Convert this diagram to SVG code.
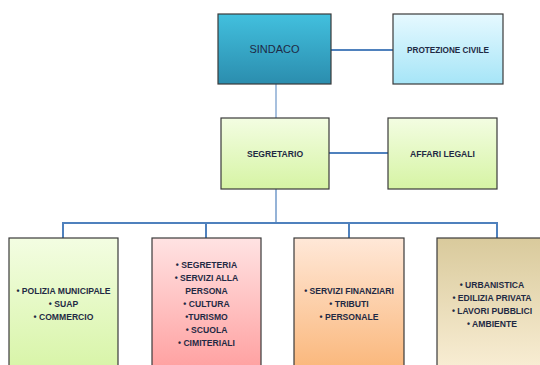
<svg xmlns="http://www.w3.org/2000/svg" width="540" height="365" viewBox="0 0 540 365">
<defs>
<linearGradient id="gSind" x1="0" y1="0" x2="0" y2="1"><stop offset="0" stop-color="#42C0DE"/><stop offset="1" stop-color="#2B8DAE"/></linearGradient>
<linearGradient id="gProt" x1="0" y1="0" x2="0" y2="1"><stop offset="0" stop-color="#E6F9FF"/><stop offset="1" stop-color="#A6E5F7"/></linearGradient>
<linearGradient id="gGreen" x1="0" y1="0" x2="0" y2="1"><stop offset="0" stop-color="#F3FDE2"/><stop offset="1" stop-color="#D6F4A4"/></linearGradient>
<linearGradient id="gRed" x1="0" y1="0" x2="0" y2="1"><stop offset="0" stop-color="#FFE3E3"/><stop offset="1" stop-color="#FF9C9C"/></linearGradient>
<linearGradient id="gOrange" x1="0" y1="0" x2="0" y2="1"><stop offset="0" stop-color="#FFE8D8"/><stop offset="1" stop-color="#FAB475"/></linearGradient>
<linearGradient id="gTan" x1="0" y1="0" x2="0" y2="1"><stop offset="0" stop-color="#D9CA9C"/><stop offset="1" stop-color="#FBF0D8"/></linearGradient>
</defs>
<style>
.box{stroke:#3a3a3a;stroke-width:1.2}
.lbl{font-family:"Liberation Sans",Arial,sans-serif;font-weight:bold;fill:#1F2A44;text-anchor:middle;font-size:8.6px}
.line{stroke:#4F81BD;stroke-width:2;fill:none}
</style>
<g id="connectors">
<line class="line" x1="331" y1="50" x2="393" y2="50"/>
<line class="line" x1="276" y1="84" x2="276" y2="118" stroke-opacity="0.5"/>
<line class="line" x1="329" y1="153" x2="388" y2="153"/>
<line class="line" x1="276" y1="189" x2="276" y2="223" stroke-opacity="0.6"/>
<polyline class="line" points="63,238 63,223 497,223 497,238"/>
<line class="line" x1="206" y1="223" x2="206" y2="238"/>
<line class="line" x1="349" y1="223" x2="349" y2="238"/>
</g>
<g id="sindaco">
<rect class="box" x="218" y="14" width="113" height="70" fill="url(#gSind)"/>
<text class="lbl" x="274.5" y="53" style="font-size:11px;font-weight:normal">SINDACO</text>
</g>
<g id="protezione">
<rect class="box" x="393" y="14" width="110" height="70" fill="url(#gProt)"/>
<text class="lbl" x="448" y="52.5" style="font-size:8.2px">PROTEZIONE CIVILE</text>
</g>
<g id="segretario">
<rect class="box" x="221" y="118" width="108" height="71" fill="url(#gGreen)"/>
<text class="lbl" x="275" y="156.5">SEGRETARIO</text>
</g>
<g id="affari">
<rect class="box" x="388" y="118" width="109" height="71" fill="url(#gGreen)"/>
<text class="lbl" x="442.5" y="156.5">AFFARI LEGALI</text>
</g>
<g id="polizia">
<rect class="box" x="9" y="238" width="109" height="140" fill="url(#gGreen)"/>
<text class="lbl" x="63.5" y="294">• POLIZIA MUNICIPALE</text>
<text class="lbl" x="63.5" y="307">• SUAP</text>
<text class="lbl" x="63.5" y="320">• COMMERCIO</text>
</g>
<g id="segreteria">
<rect class="box" x="152" y="238" width="109" height="140" fill="url(#gRed)"/>
<text class="lbl" x="206.5" y="268">• SEGRETERIA</text>
<text class="lbl" x="206.5" y="281">• SERVIZI ALLA</text>
<text class="lbl" x="206.5" y="294">PERSONA</text>
<text class="lbl" x="206.5" y="307">• CULTURA</text>
<text class="lbl" x="206.5" y="320">•TURISMO</text>
<text class="lbl" x="206.5" y="333">• SCUOLA</text>
<text class="lbl" x="206.5" y="346">• CIMITERIALI</text>
</g>
<g id="finanziari">
<rect class="box" x="294" y="238" width="110" height="140" fill="url(#gOrange)"/>
<text class="lbl" x="349" y="294">• SERVIZI FINANZIARI</text>
<text class="lbl" x="349" y="307">• TRIBUTI</text>
<text class="lbl" x="349" y="320">• PERSONALE</text>
</g>
<g id="urbanistica">
<rect class="box" x="437" y="238" width="110" height="140" fill="url(#gTan)"/>
<text class="lbl" x="492" y="288">• URBANISTICA</text>
<text class="lbl" x="492" y="301">• EDILIZIA PRIVATA</text>
<text class="lbl" x="492" y="314">• LAVORI PUBBLICI</text>
<text class="lbl" x="492" y="327">• AMBIENTE</text>
</g>
</svg>
